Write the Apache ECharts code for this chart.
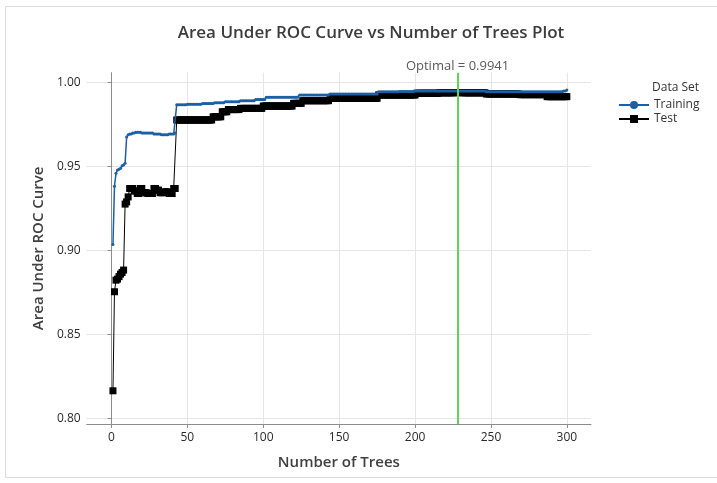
<!DOCTYPE html>
<html>
<head>
<meta charset="utf-8">
<script src="https://cdn.jsdelivr.net/npm/echarts@6/dist/echarts.min.js"></script>
<style>
  html, body { margin: 0; padding: 0; background: #fff; }
  #chart { width: 717px; height: 483px; }
</style>
</head>
<body>
<div id="chart"></div>
<script>
// AUC per number of trees, stored as runs: [first tree of the run, AUC]
const trainingRuns = [
  [1, 0.9037], [2, 0.9384], [3, 0.9460], [4, 0.9480], [5, 0.9485], [6, 0.9490],
  [7, 0.9505], [8, 0.9510], [9, 0.9520], [10, 0.9676], [11, 0.9690], [12, 0.9695],
  [14, 0.9700], [16, 0.9705], [20, 0.9700], [28, 0.9695], [33, 0.9690], [38, 0.9695],
  [42, 0.9700], [43, 0.9869], [50, 0.9872], [60, 0.9876], [68, 0.9880], [75, 0.9887],
  [85, 0.9893], [95, 0.9900], [102, 0.9913], [124, 0.9927], [144, 0.9933],
  [176, 0.9946], [190, 0.9948], [200, 0.9950], [247, 0.9946], [298, 0.9950], [300, 0.9956]
];
const testRuns = [
  [1, 0.8165], [2, 0.8755], [3, 0.8824], [4, 0.8830], [5, 0.8845], [6, 0.8860],
  [7, 0.8870], [8, 0.8884], [9, 0.9277], [10, 0.9290], [11, 0.9320], [12, 0.9370],
  [15, 0.9355], [17, 0.9340], [19, 0.9370], [21, 0.9345], [24, 0.9340], [28, 0.9370],
  [30, 0.9360], [32, 0.9345], [35, 0.9350], [38, 0.9340], [41, 0.9370], [43, 0.9778],
  [67, 0.9797], [73, 0.9827], [77, 0.9840], [85, 0.9847], [100, 0.9861], [120, 0.9877],
  [126, 0.9893], [144, 0.9907], [176, 0.9927], [201, 0.9937], [216, 0.9940],
  [226, 0.9941], [232, 0.9940], [247, 0.9933], [269, 0.9929], [287, 0.9917]
];
const treeCount = 300;
const optimalTrees = 228;
const optimalAuc = 0.9941;
const xTicks = [0, 50, 100, 150, 200, 250, 300];
const yTicks = [0.80, 0.85, 0.90, 0.95, 1.00];

// Decode the runs into one point per tree count
function expandRuns(runs, n) {
  const out = [];
  let k = 0;
  for (let t = 1; t <= n; t++) {
    while (k + 1 < runs.length && runs[k + 1][0] <= t) k++;
    out.push([t, runs[k][1]]);
  }
  return out;
}

const FONT = '"Open Sans", "Noto Sans", sans-serif';
const chart = echarts.init(document.getElementById('chart'), null, { renderer: 'canvas' });

chart.setOption({
  animation: false,
  backgroundColor: '#ffffff',
  textStyle: { fontFamily: FONT },
  title: {
    text: 'Area Under ROC Curve vs Number of Trees Plot',
    left: 366, top: 20, textAlign: 'center',
    textStyle: { fontFamily: FONT, fontSize: 17, fontWeight: 600, color: '#3c3c3c' }
  },
  graphic: [
    { type: 'rect', silent: true, z: -10,
      shape: { x: 5.5, y: 6.5, width: 720, height: 471 },
      style: { fill: 'none', stroke: '#dcdcdc', lineWidth: 1 } },
    { type: 'text', left: 652, top: 82,
      style: { text: 'Data Set', fontFamily: FONT, fontSize: 12, fill: '#333' } }
  ],
  legend: {
    orient: 'vertical',
    left: 613, top: 94,
    itemWidth: 30, itemHeight: 10, itemGap: 2,
    textStyle: { fontFamily: FONT, fontSize: 12, color: '#333' },
    data: ['Training', 'Test']
  },
  grid: { left: 86.7, right: 126, top: 72.7, bottom: 59, containLabel: false },
  xAxis: {
    type: 'value',
    min: -16.3, max: 315.9,
    name: 'Number of Trees',
    nameLocation: 'middle', nameGap: 31,
    nameTextStyle: { fontFamily: FONT, fontSize: 15, fontWeight: 600, color: '#404040' },
    axisLine: { show: true, lineStyle: { color: '#8c8c8c', width: 1 } },
    axisTick: { show: true, length: 4, customValues: xTicks, lineStyle: { color: '#8c8c8c' } },
    axisLabel: { customValues: xTicks, fontSize: 12, color: '#2a2a2a', margin: 8, fontFamily: FONT },
    splitLine: { show: true, lineStyle: { color: '#e6e6e6', width: 1 } }
  },
  yAxis: {
    type: 'value',
    min: 0.79672, max: 1.00596,
    name: 'Area Under ROC Curve',
    nameLocation: 'middle', nameGap: 40,
    nameTextStyle: { fontFamily: FONT, fontSize: 15, fontWeight: 600, color: '#404040' },
    axisLine: { show: true, lineStyle: { color: '#8c8c8c', width: 1 } },
    axisTick: { show: true, length: 4, customValues: yTicks, lineStyle: { color: '#8c8c8c' } },
    axisLabel: {
      customValues: yTicks, fontSize: 12, color: '#2a2a2a', margin: 6, fontFamily: FONT,
      formatter: v => v.toFixed(2)
    },
    splitLine: { show: true, lineStyle: { color: '#e6e6e6', width: 1 } }
  },
  series: [
    {
      name: 'Training',
      type: 'line',
      data: expandRuns(trainingRuns, treeCount),
      symbol: 'circle', symbolSize: 3, showAllSymbol: true,
      itemStyle: { color: '#1c5fa5' },
      lineStyle: { color: '#1c5fa5', width: 1.5 },
      z: 4
    },
    {
      name: 'Test',
      type: 'line',
      data: expandRuns(testRuns, treeCount),
      symbol: 'rect', symbolSize: 7, showAllSymbol: true,
      itemStyle: { color: '#000000' },
      lineStyle: { color: '#000000', width: 1 },
      z: 3,
      markLine: {
        silent: true,
        symbol: 'none',
        animation: false,
        lineStyle: { color: '#5fd35a', width: 2, type: 'solid' },
        label: {
          show: true, position: 'end', distance: 0,
          formatter: 'Optimal = ' + optimalAuc.toFixed(4),
          color: '#5a5a5a', fontSize: 13, fontFamily: FONT
        },
        data: [{ xAxis: optimalTrees }]
      }
    }
  ]
});
</script>
</body>
</html>
